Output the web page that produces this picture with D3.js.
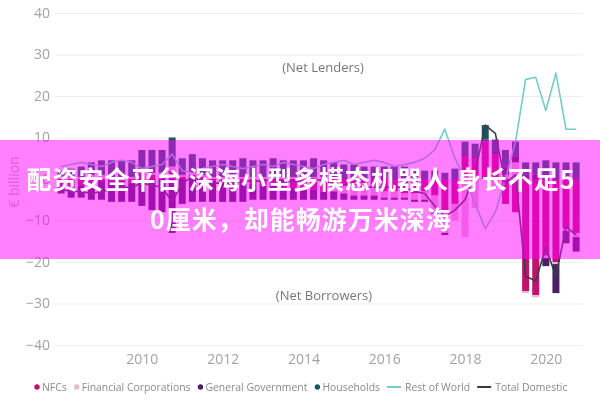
<!DOCTYPE html>
<meta charset="utf-8">
<style>
  body { margin: 0; background: #fff; }
  svg { display: block; font-family: "Open Sans", "DejaVu Sans", sans-serif; }
</style>
<svg id="chart" width="600" height="400"></svg>
<script src="https://d3js.org/d3.v7.min.js"></script>
<script>

// quarterly sectoral net lending, € billion
var quarters = [
  "2008Q1","2008Q2","2008Q3","2008Q4", "2009Q1","2009Q2","2009Q3","2009Q4",
  "2010Q1","2010Q2","2010Q3","2010Q4", "2011Q1","2011Q2","2011Q3","2011Q4",
  "2012Q1","2012Q2","2012Q3","2012Q4", "2013Q1","2013Q2","2013Q3","2013Q4",
  "2014Q1","2014Q2","2014Q3","2014Q4", "2015Q1","2015Q2","2015Q3","2015Q4",
  "2016Q1","2016Q2","2016Q3","2016Q4", "2017Q1","2017Q2","2017Q3","2017Q4",
  "2018Q1","2018Q2","2018Q3","2018Q4", "2019Q1","2019Q2","2019Q3","2019Q4",
  "2020Q1","2020Q2","2020Q3","2020Q4"
];
var nfc = [
  -1.5, -2, -1.5, -1,   -0.5, -0.5, -0.5, -1,   1.5, 1, 1, 2,       0.5, 1, 0.5, -0.5,
  -0.5, -1, -1, -1,     -1.5, -1.5, -2, -2,     -2.5, -2.5, -3, -2, -1.5, -1.5, -1, -2,
  -3, -3, -3.5, -3.5,   -3, -4, -8, -6,         5.5, 5, 9, 6,       -6, -8, -27, -28,
  -18.5, -20, -12, -13
];
var finCorp = [
  0.5, 0.5, 0.5, 1,     1, 0.5, 0.5, 0.5,       0.5, 0.5, 0.5, 1,   0.5, 0.5, 0.5, 0.5,
  0.5, 0.5, 0.5, 0.5,   0.5, 0.5, 0.5, 0.5,     0.5, 0.5, 0.5, -1,  -2, -2.5, -3, -2,
  -1.5, -1.5, -1, -1.5, -2, -4, -5, -4,         -14, -7, 0, -2,     1, 4, -0.5, -0.5,
  -0.5, -0.5, -0.5, -1
];
var govt = [
  -2, -2.5, -3, -4,     -4.5, -5, -5, -4.5,     -6.5, -7.5, -8, -13, -6, -5.5, -5.5, -5,
  -5, -4.5, -4.5, -4,   -3.5, -3.5, -3, -3,     -2.5, -2.5, -2, -2,  -1.5, -1, -1, -1,
  -0.5, -0.5, -0.5, -0.5, -0.5, -0.5, -0.5, 0,  0.5, 0.5, 0.5, 0.5,  2, 1.5, 1, 1,
  -2, -7, -3, -3.5
];
var households = [
  1.5, 2, 2.5, 3,       3.5, 4, 4, 4,           5, 5.5, 5.5, 7,     4, 4.5, 4, 4,
  4, 4, 4.5, 4,         4, 4.5, 4, 4,           4, 4.5, 4, 4,       3.5, 3.5, 3, 3,
  3, 3, 3, 2.5,         2, 2, 1.5, 2.5,         3, 3, 3.5, 3,       4, 3.5, 3, 3,
  4.5, 4, 4, 4
];
var restOfWorld = [
  3, 3.5, 4, 3.5,       3, 4, 4.5, 4,           2.5, 3, 3.5, 6,     2, 1.5, 2.5, 3,
  3.5, 3, 2.5, 3,       3.5, 3, 4, 3.5,         3, 2.5, 3.5, 4,     4.5, 3.5, 4, 4.5,
  4, 3, 3.5, 4,         5, 7, 12, 5,            0, -6, -12, -8,     0, 9, 24, 24.5,
  16.5, 25.5, 12, 12
];
var totalDomestic = [
  -2.5, -3, -3, -3.5,   -3, -2.5, -2, -2,       -1, -1.5, -2, -5.5, -1, 0.5, -0.5, -1,
  -1, -1, -0.5, -0.5,   -0.5, 0, -0.5, -0.5,    -0.5, 0, -0.5, -1,  -1.5, -1, -2, -2,
  -2, -2, -2, -3,       -3.5, -6.5, -9, -7.5,   -5, 1.5, 13, 11,    -1, 1, -23.5, -24.5,
  -16.5, -23.5, -11.5, -13.5
];

var yTicks = [-40, -30, -20, -10, 0, 10, 20, 30, 40];
var xTicks = [2010, 2012, 2014, 2016, 2018, 2020];

var barKeys = ["NFCs", "Financial Corporations", "General Government", "Households"];
var barColors = ["#c0126f", "#efb3d6", "#4a1f63", "#1d5563"];
var lineKeys = ["Rest of World", "Total Domestic"];
var lineColors = ["#72cfc8", "#3b3b48"];

var bannerLines = ["配资安全平台 深海小型多模态机器人 身长不足5", "0厘米，却能畅游万米深海"];

// table for d3.stack
var rows = quarters.map(function(q, i) {
  return {
    t: +q.slice(0, 4) + (+q.charAt(5) - 1) / 4,
    "NFCs": nfc[i],
    "Financial Corporations": finCorp[i],
    "General Government": govt[i],
    "Households": households[i]
  };
});

var svg = d3.select("#chart");
var plot = {left: 55, right: 583, top: 13, bottom: 345};

var x = d3.scaleLinear().domain([2007.85, 2020.92]).range([plot.left, plot.right]);
var y = d3.scaleLinear().domain([-40, 40]).range([plot.bottom, plot.top]);
var barW = 7;

var chart = svg.append("g").style("filter", "blur(0.35px)");

// gridlines + y labels
var yAxis = chart.append("g")
    .attr("transform", "translate(" + plot.left + ",0)")
    .call(d3.axisLeft(y).tickValues(yTicks).tickSize(-(plot.right - plot.left)).tickPadding(5));
yAxis.select(".domain").remove();
yAxis.selectAll(".tick line").attr("stroke", "#ededed");
yAxis.selectAll(".tick text")
    .attr("fill", "#a3a3a3")
    .style("font-size", "14px")
    .style("font-family", "'Open Sans', sans-serif");

var xAxis = chart.append("g")
    .attr("transform", "translate(0," + plot.bottom + ")")
    .call(d3.axisBottom(x).tickValues(xTicks).tickFormat(d3.format("d")).tickSize(0).tickPadding(9));
xAxis.select(".domain").remove();
xAxis.selectAll(".tick text")
    .attr("fill", "#a3a3a3")
    .style("font-size", "14px")
    .style("font-family", "'Open Sans', sans-serif");

chart.append("text")
    .attr("transform", "translate(19,182) rotate(-90)")
    .attr("text-anchor", "middle")
    .attr("fill", "#b8b8b8")
    .style("font-size", "14px")
    .text("€ billion");

chart.append("text")
    .attr("x", 323).attr("y", 72)
    .attr("text-anchor", "middle")
    .attr("fill", "#777")
    .style("font-size", "13px")
    .text("(Net Lenders)");

chart.append("text")
    .attr("x", 324).attr("y", 300)
    .attr("text-anchor", "middle")
    .attr("fill", "#777")
    .style("font-size", "13px")
    .text("(Net Borrowers)");

// stacked bars
var stacked = d3.stack().keys(barKeys).offset(d3.stackOffsetDiverging)(rows);

chart.append("g").selectAll("g")
  .data(stacked)
  .join("g")
    .attr("fill", function(d, i) { return barColors[i]; })
  .selectAll("rect")
  .data(function(d) { return d; })
  .join("rect")
    .attr("x", function(d) { return x(d.data.t) - barW / 2; })
    .attr("width", barW)
    .attr("y", function(d) { return y(Math.max(d[0], d[1])); })
    .attr("height", function(d) { return Math.abs(y(d[0]) - y(d[1])); });

// lines
var lineSeries = [restOfWorld, totalDomestic];
var line = d3.line()
    .x(function(d, i) { return x(rows[i].t); })
    .y(function(d) { return y(d); });

lineSeries.forEach(function(s, i) {
  chart.append("path")
      .datum(s)
      .attr("fill", "none")
      .attr("stroke", lineColors[i])
      .attr("stroke-width", 1.6)
      .attr("stroke-linejoin", "round")
      .attr("d", line);
});

// legend
var legend = chart.append("g")
    .attr("transform", "translate(34,387)")
    .style("font-size", "10.4px")
    .attr("fill", "#8a8a8a");
var lx = 0;
barKeys.forEach(function(k, i) {
  legend.append("circle").attr("cx", lx + 3).attr("cy", 0).attr("r", 2.7).attr("fill", barColors[i]);
  var t = legend.append("text").attr("x", lx + 8).attr("y", 3.5).text(k);
  lx += 8 + t.node().getComputedTextLength() + 7;
});
lineKeys.forEach(function(k, i) {
  legend.append("line").attr("x1", lx).attr("x2", lx + 14).attr("y1", 0).attr("y2", 0)
      .attr("stroke", lineColors[i]).attr("stroke-width", 2);
  var t = legend.append("text").attr("x", lx + 18).attr("y", 3.5).text(k);
  lx += 18 + t.node().getComputedTextLength() + 7;
});

// overlay banner
svg.append("rect")
    .attr("x", 0).attr("y", 140)
    .attr("width", 600).attr("height", 119)
    .attr("fill", "#ff00ff")
    .attr("opacity", 0.5);

svg.append("g").selectAll("text")
  .data(bannerLines)
  .join("text")
    .attr("x", 301)
    .attr("y", function(d, i) { return 189 + i * 40; })
    .attr("text-anchor", "middle")
    .attr("fill", "#fff")
    .style("font-family", "'Noto Sans CJK SC', sans-serif")
    .style("font-weight", "bold")
    .style("font-size", "25px")
    .style("letter-spacing", "1px")
    .text(function(d) { return d; });

</script>
